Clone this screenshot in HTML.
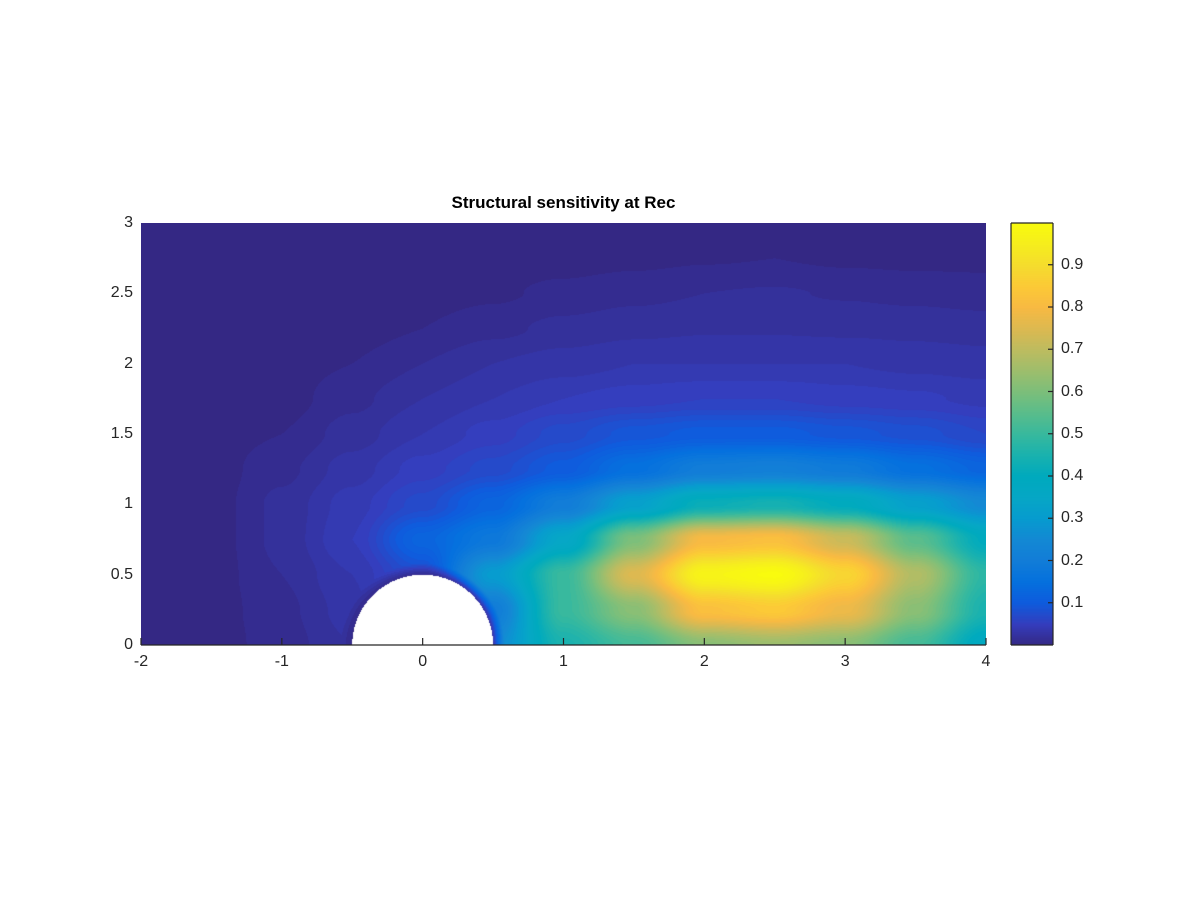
<!DOCTYPE html>
<html><head><meta charset="utf-8"><style>
body{margin:0;background:#fff;width:1200px;height:900px;overflow:hidden;position:relative;font-family:"Liberation Sans",sans-serif;}
.t{position:absolute;font-size:16px;color:#262626;}
</style></head><body>
<div style="position:absolute;left:141px;width:845px;top:193px;text-align:center;font-weight:bold;font-size:17px;color:#000;">Structural sensitivity at Rec</div>
<canvas id="hm" width="845" height="422" style="position:absolute;left:141px;top:223px;"></canvas>
<canvas id="cb" width="42" height="422" style="position:absolute;left:1011px;top:223px;"></canvas>
<svg id="ax" width="1200" height="900" style="position:absolute;left:0;top:0;"></svg>
<div id="labels"></div>
<script>
const xs=[-2,-1.5,-1,-0.5,0,0.5,1,1.5,2,2.5,3,3.5,4];
const ys=[0,0.25,0.5,0.75,1,1.25,1.5,1.75,2,2.25,2.5,2.75,3];
const row0=[0,0,.01,.025,.1,.25,.45,.52,.62,.65,.62,.52,.38];
const row1=[0,0,.012,.03,.1,.2,.5,.62,.82,.85,.78,.62,.45];
const row2=[0,0,.015,.035,.08,.3,.5,.75,.97,1.0,.88,.68,.48];
const row3=[0,0,.018,.045,.12,.18,.35,.6,.8,.82,.72,.55,.4];
const row4=[0,0,.018,.04,.07,.12,.2,.32,.42,.44,.4,.32,.25];
const row5=[0,0,.012,.03,.05,.07,.1,.15,.2,.21,.19,.15,.12];
const row6=[0,0,.005,.02,.035,.05,.07,.09,.1,.1,.09,.08,.065];
const row7=[0,0,0,.012,.025,.035,.045,.05,.055,.055,.05,.047,.042];
const row8=[0,0,0,.005,.015,.025,.03,.035,.035,.035,.035,.032,.03];
const row9=[0,0,0,0,.005,.012,.018,.022,.024,.024,.023,.022,.02];
const row10=[0,0,0,0,0,.003,.008,.012,.015,.016,.014,.012,.01];
const row11=[0,0,0,0,0,0,0,.002,.004,.005,.003,.002,.002];
const row12=[0,0,0,0,0,0,0,0,0,0,0,0,0];
const grid=[row0,row1,row2,row3,row4,row5,row6,row7,row8,row9,row10,row11,row12];
const xTicks=[-2,-1,0,1,2,3,4];
const yTicks=[0,0.5,1,1.5,2,2.5,3];
const yTickLabels=["0","0.5","1","1.5","2","2.5","3"];
const cTicks=[0.1,0.2,0.3,0.4,0.5,0.6,0.7,0.8,0.9];
const PX=141,PW=845,PY=223,PH=422;
const X=v=>PX+(v+2)/6*PW, Y=v=>PY+PH-(v/3)*PH;
const stops=[[52,40,132],[52,62,190],[15,92,221],[5,113,222],[18,125,216],[20,137,212],[7,156,207],[6,167,198],[0,170,190],[26,178,175],[56,185,158],[90,189,140],[124,191,123],[158,190,109],[190,188,96],[221,185,81],[248,186,67],[252,202,55],[245,221,46],[246,238,30],[249,251,14]];
function cmap(v){v=Math.max(0,Math.min(1,v));const f=v*20,i=Math.min(19,Math.floor(f)),t=f-i;const a=stops[i],b=stops[i+1];return [a[0]+(b[0]-a[0])*t,a[1]+(b[1]-a[1])*t,a[2]+(b[2]-a[2])*t];}
function val(x,y){let fx=(x-xs[0])/0.5,fy=(y-ys[0])/0.25;let i=Math.min(11,Math.max(0,Math.floor(fx))),j=Math.min(11,Math.max(0,Math.floor(fy)));let tx=fx-i,ty=fy-j;
tx=tx*tx*(3-2*tx);ty=ty*ty*(3-2*ty);
const a=grid[j][i],b=grid[j][i+1],c=grid[j+1][i],d=grid[j+1][i+1];return (a*(1-tx)+b*tx)*(1-ty)+(c*(1-tx)+d*tx)*ty;}
const hc=document.getElementById('hm').getContext('2d');const img=hc.createImageData(PW,PH);
for(let py=0;py<PH;py++)for(let px=0;px<PW;px++){const x=-2+(px+0.5)/PW*6,y=3-(py+0.5)/PH*3;const k=(py*PW+px)*4;const r=Math.hypot(x,y);let col;
if(r<0.5){col=[255,255,255];}else{let v=val(x,y);if(r<0.58)v=v*(0.1+0.9*(r-0.5)/0.08);v=Math.round(v*100)/100;col=cmap(v);}
img.data[k]=col[0];img.data[k+1]=col[1];img.data[k+2]=col[2];img.data[k+3]=255;}
hc.putImageData(img,0,0);
const cc=document.getElementById('cb').getContext('2d');
for(let py=0;py<422;py++){const c=cmap(1-py/422);cc.fillStyle=`rgb(${c[0]|0},${c[1]|0},${c[2]|0})`;cc.fillRect(0,py,42,1);}
const svg=document.getElementById('ax');const NS='http://www.w3.org/2000/svg';
function ln(x1,y1,x2,y2,name){const l=document.createElementNS(NS,'line');l.setAttribute('x1',x1);l.setAttribute('y1',y1);l.setAttribute('x2',x2);l.setAttribute('y2',y2);l.setAttribute('stroke','#262626');l.setAttribute('stroke-width','1.2');


svg.appendChild(l);}
ln(PX,PY+PH,PX+PW,PY+PH,'x-axis-line');
ln(1011,223,1053,223,'colorbar-border');ln(1011,645,1053,645,'colorbar-border');ln(1011,223,1011,645,'colorbar-border');ln(1053,223,1053,645,'colorbar-border');
const lab=document.getElementById('labels');
function txt(s,x,y,align,name){const d=document.createElement('div');d.className='t';d.textContent=s;


d.style.top=(y-9)+'px';if(align==='c'){d.style.left=(x-30)+'px';d.style.width='60px';d.style.textAlign='center';}else if(align==='r'){d.style.left=(x-60)+'px';d.style.width='60px';d.style.textAlign='right';}else{d.style.left=x+'px';}
lab.appendChild(d);}
xTicks.forEach(v=>{ln(X(v),PY+PH,X(v),PY+PH-7,'x-tick');txt(String(v),X(v),662,'c','x-tick-label');});
yTicks.forEach((v,i)=>{txt(yTickLabels[i],133,Y(v),'r','y-tick-label');});
cTicks.forEach(v=>{const y=645-v*422.5;ln(1053,y,1048,y,'colorbar-tick');txt(String(v),1061,y,'l','colorbar-tick-label');});
</script>
</body></html>
